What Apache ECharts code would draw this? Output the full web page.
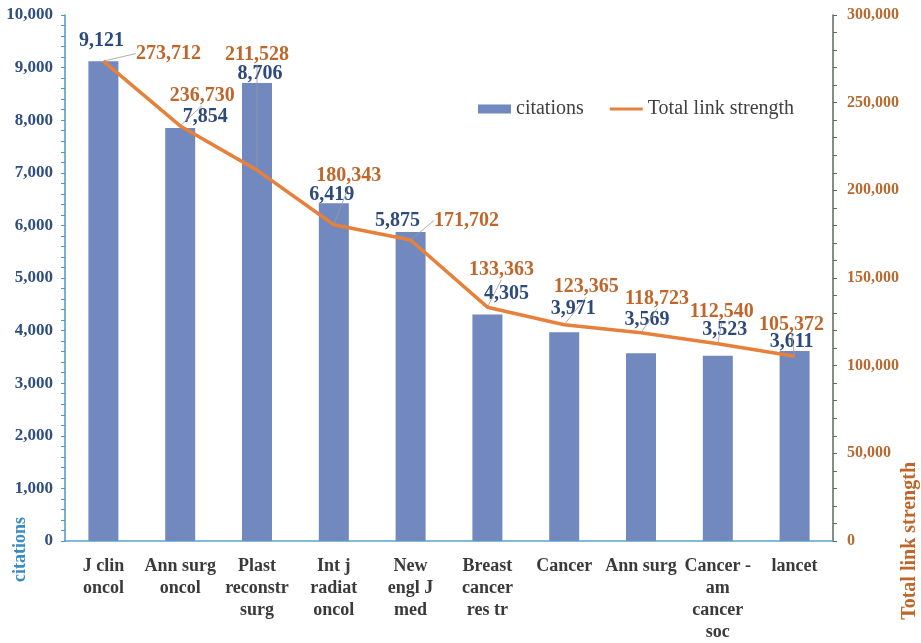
<!DOCTYPE html>
<html>
<head>
<meta charset="utf-8">
<script src="https://cdn.jsdelivr.net/npm/echarts@6/dist/echarts.min.js"></script>
<style>
html, body { margin: 0; padding: 0; background: #fff; }
#main { width: 921px; height: 643px; }
</style>
</head>
<body>
<div id="main"></div>
<script>
// journals
var categories = ['J clin\noncol', 'Ann surg\noncol', 'Plast\nreconstr\nsurg', 'Int j\nradiat\noncol',
    'New\nengl J\nmed', 'Breast\ncancer\nres tr', 'Cancer', 'Ann surg', 'Cancer -\nam\ncancer\nsoc', 'lancet'];
var citations = [9121, 7854, 8706, 6419, 5875, 4305, 3971, 3569, 3523, 3611];
var linkStrength = [273712, 236730, 211528, 180343, 171702, 133363, 123365, 118723, 112540, 105372];

// label shifts (px) from the bar top / line point
var barLabelShift = [[-2, -20], [25, -11], [3, -9], [-2, -9], [-13, -11], [19, -21], [9, -23], [6, -33], [7, -26], [-3, -9]];
var lineLabelShift = [[65, -7], [22, -30], [0, -115], [15, -48], [56, -19], [14, -37], [22, -37], [16, -34], [4, -31], [-3, -31]];

var serif = '"Liberation Serif", "Times New Roman", serif';

function fmt(v) {
    return v.toLocaleString('en-US');
}

var option = {
    backgroundColor: '#fff',
    animation: false,
    grid: { left: 65, right: 88, top: 15, bottom: 96 },
    legend: {
        left: 473,
        top: 94,
        itemWidth: 33,
        itemHeight: 9,
        itemGap: 26,
        textStyle: { fontFamily: serif, fontSize: 20, color: '#404040' },
        data: [
            { name: 'citations', icon: 'rect' },
            { name: 'Total link strength', icon: 'path://M0,0 H33 V3 H0 Z' }
        ]
    },
    xAxis: {
        type: 'category',
        data: categories,
        axisLine: { lineStyle: { color: '#5aa2ca', width: 1.5 } },
        axisTick: { show: false },
        axisLabel: {
            interval: 0,
            margin: 14,
            fontFamily: serif,
            fontWeight: 'bold',
            fontSize: 18,
            lineHeight: 22,
            color: '#3a3a3a'
        }
    },
    yAxis: [{
        type: 'value',
        min: 0,
        max: 10000,
        interval: 1000,
        splitLine: { show: false },
        axisLine: { show: true, lineStyle: { color: '#4c97bf', width: 1.5 } },
        axisTick: { show: true, length: 4, lineStyle: { color: '#4c97bf' } },
        minorTick: { show: true, splitNumber: 5, length: 4, lineStyle: { color: '#4c97bf' } },
        axisLabel: {
            margin: 12,
            fontFamily: serif,
            fontWeight: 'bold',
            fontSize: 17,
            color: '#2f4f7f',
            formatter: fmt
        }
    }, {
        type: 'value',
        min: 0,
        max: 300000,
        interval: 50000,
        splitLine: { show: false },
        axisLine: { show: true, lineStyle: { color: '#5b6b5c', width: 1.5 } },
        axisTick: { show: true, length: 4, lineStyle: { color: '#5b6b5c' } },
        minorTick: { show: true, splitNumber: 5, length: 4, lineStyle: { color: '#5b6b5c' } },
        axisLabel: {
            margin: 14,
            fontFamily: serif,
            fontWeight: 'bold',
            fontSize: 16,
            color: '#b8692e',
            formatter: fmt
        }
    }],
    graphic: [{
        type: 'text',
        left: 11,
        top: 517,
        rotation: Math.PI / 2,
        style: {
            text: 'citations',
            font: 'bold 18px ' + serif,
            fill: '#3a8dc0'
        }
    }, {
        type: 'text',
        left: 900,
        top: 462,
        rotation: Math.PI / 2,
        style: {
            text: 'Total link strength',
            font: 'bold 20px ' + serif,
            fill: '#c0662a'
        }
    }],
    series: [{
        name: 'citations',
        type: 'bar',
        data: citations,
        barWidth: 30,
        itemStyle: { color: '#7189bf' },
        label: {
            show: true,
            position: 'top',
            distance: 0,
            verticalAlign: 'middle',
            fontFamily: serif,
            fontWeight: 'bold',
            fontSize: 20,
            color: '#2d4a7c',
            formatter: function (p) { return fmt(p.value); }
        },
        labelLayout: function (p) {
            return { dx: barLabelShift[p.dataIndex][0], dy: barLabelShift[p.dataIndex][1] };
        },
        z: 2
    }, {
        name: 'Total link strength',
        type: 'line',
        yAxisIndex: 1,
        data: linkStrength,
        symbol: 'circle',
        symbolSize: 1,
        lineStyle: { color: '#e7803a', width: 3.5 },
        itemStyle: { color: '#e7803a' },
        label: {
            show: true,
            position: 'top',
            distance: 0,
            verticalAlign: 'middle',
            fontFamily: serif,
            fontWeight: 'bold',
            fontSize: 20,
            color: '#c0662a',
            formatter: function (p) { return fmt(p.value); }
        },
        labelLine: { show: true, lineStyle: { color: '#9a9a9a', width: 0.8 } },
        labelLayout: function (p) {
            return { dx: lineLabelShift[p.dataIndex][0], dy: lineLabelShift[p.dataIndex][1] };
        },
        z: 3
    }]
};

var chart = echarts.init(document.getElementById('main'));
chart.setOption(option);
</script>
</body>
</html>
